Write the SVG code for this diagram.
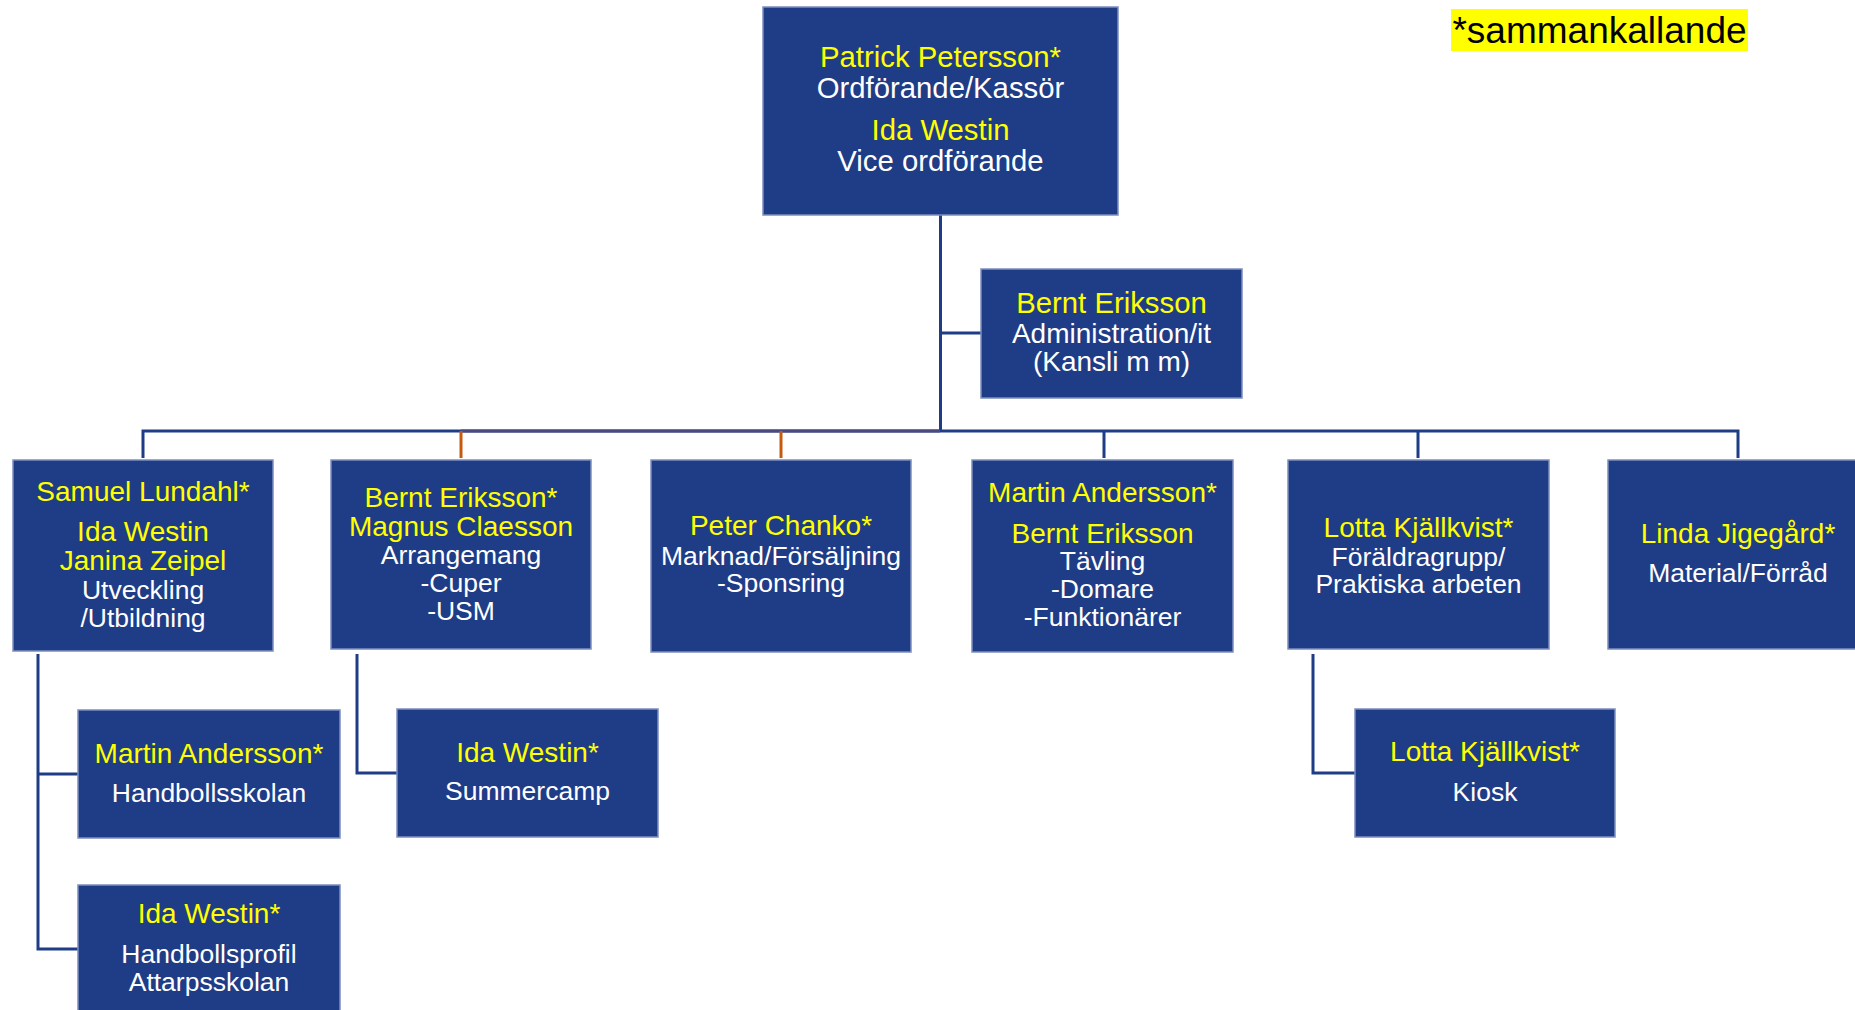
<svg xmlns="http://www.w3.org/2000/svg" width="1855" height="1010" viewBox="0 0 1855 1010">
<style>
.box{fill:#1F3C86;stroke:#7D8FBF;stroke-width:1.5}
text{font-family:"Liberation Sans",Arial,sans-serif;text-anchor:middle}
.n{fill:#FFFF00;font-size:28px}
.d{fill:#FFFFFF;font-size:26.5px}
.tn{fill:#FFFF00;font-size:29.3px}
.td{fill:#FFFFFF;font-size:29.3px}
.ln{fill:none;stroke:#1F3C86;stroke-width:3}
.or{fill:none;stroke:#C55A11;stroke-width:3}
</style>
<rect width="1855" height="1010" fill="#FFFFFF"/>
<g id="connectors">
<path class="ln" d="M940.5 215 V431 M940.5 333 H981"/>
<path class="ln" d="M143 458 V431 H1738 V458 M1104 431 V458 M1418 431 V458"/>
<path fill="none" stroke="#4A4A7E" stroke-width="3" d="M461 431 H940"/>
<path class="or" d="M461 431 V458 M781 431 V458"/>
<path class="ln" d="M38 654 V949 H78 M38 774 H78"/>
<path class="ln" d="M357 654 V773 H397"/>
<path class="ln" d="M1313 654 V773 H1355"/>
</g>
<g id="legend">
<rect x="1451" y="9" width="297" height="42" fill="#FFFF00"/>
<text x="1599.5" y="42.5" style="font-size:37px;fill:#000000">*sammankallande</text>
</g>
<g id="top">
<rect class="box" x="763" y="7" width="355" height="208"/>
<text class="tn" x="940.5" y="67">Patrick Petersson*</text>
<text class="td" x="940.5" y="98">Ordförande/Kassör</text>
<text class="tn" x="940.5" y="140">Ida Westin</text>
<text class="td" x="940.5" y="171">Vice ordförande</text>
</g>
<g id="admin">
<rect class="box" x="981" y="269" width="261" height="129"/>
<text class="tn" x="1111.5" y="313">Bernt Eriksson</text>
<text class="td" x="1111.5" y="343" style="font-size:28px">Administration/it</text>
<text class="td" x="1111.5" y="371" style="font-size:28px">(Kansli m m)</text>
</g>
<g id="utveckling">
<rect class="box" x="13" y="460" width="260" height="191"/>
<text class="n" x="143" y="501">Samuel Lundahl*</text>
<text class="n" x="143" y="541">Ida Westin</text>
<text class="n" x="143" y="569.5">Janina Zeipel</text>
<text class="d" x="143" y="599">Utveckling</text>
<text class="d" x="143" y="627">/Utbildning</text>
</g>
<g id="arrangemang">
<rect class="box" x="331" y="460" width="260" height="189"/>
<text class="n" x="461" y="507">Bernt Eriksson*</text>
<text class="n" x="461" y="536">Magnus Claesson</text>
<text class="d" x="461" y="564">Arrangemang</text>
<text class="d" x="461" y="592">-Cuper</text>
<text class="d" x="461" y="620">-USM</text>
</g>
<g id="marknad">
<rect class="box" x="651" y="460" width="260" height="192"/>
<text class="n" x="781" y="535">Peter Chanko*</text>
<text class="d" x="781" y="565">Marknad/Försäljning</text>
<text class="d" x="781" y="592">-Sponsring</text>
</g>
<g id="tavling">
<rect class="box" x="972" y="460" width="261" height="192"/>
<text class="n" x="1102.5" y="502">Martin Andersson*</text>
<text class="n" x="1102.5" y="543">Bernt Eriksson</text>
<text class="d" x="1102.5" y="570">Tävling</text>
<text class="d" x="1102.5" y="598">-Domare</text>
<text class="d" x="1102.5" y="626">-Funktionärer</text>
</g>
<g id="foraldragrupp">
<rect class="box" x="1288" y="460" width="261" height="189"/>
<text class="n" x="1418.5" y="537">Lotta Kjällkvist*</text>
<text class="d" x="1418.5" y="566">Föräldragrupp/</text>
<text class="d" x="1418.5" y="593">Praktiska arbeten</text>
</g>
<g id="material">
<rect class="box" x="1608" y="460" width="260" height="189"/>
<text class="n" x="1738" y="543">Linda Jigegård*</text>
<text class="d" x="1738" y="582">Material/Förråd</text>
</g>
<g id="handbollsskolan">
<rect class="box" x="78" y="710" width="262" height="128"/>
<text class="n" x="209" y="763">Martin Andersson*</text>
<text class="d" x="209" y="802">Handbollsskolan</text>
</g>
<g id="handbollsprofil">
<rect class="box" x="78" y="885" width="262" height="135"/>
<text class="n" x="209" y="923">Ida Westin*</text>
<text class="d" x="209" y="963">Handbollsprofil</text>
<text class="d" x="209" y="991">Attarpsskolan</text>
</g>
<g id="summercamp">
<rect class="box" x="397" y="709" width="261" height="128"/>
<text class="n" x="527.5" y="762">Ida Westin*</text>
<text class="d" x="527.5" y="800">Summercamp</text>
</g>
<g id="kiosk">
<rect class="box" x="1355" y="709" width="260" height="128"/>
<text class="n" x="1485" y="761">Lotta Kjällkvist*</text>
<text class="d" x="1485" y="801">Kiosk</text>
</g>
</svg>
